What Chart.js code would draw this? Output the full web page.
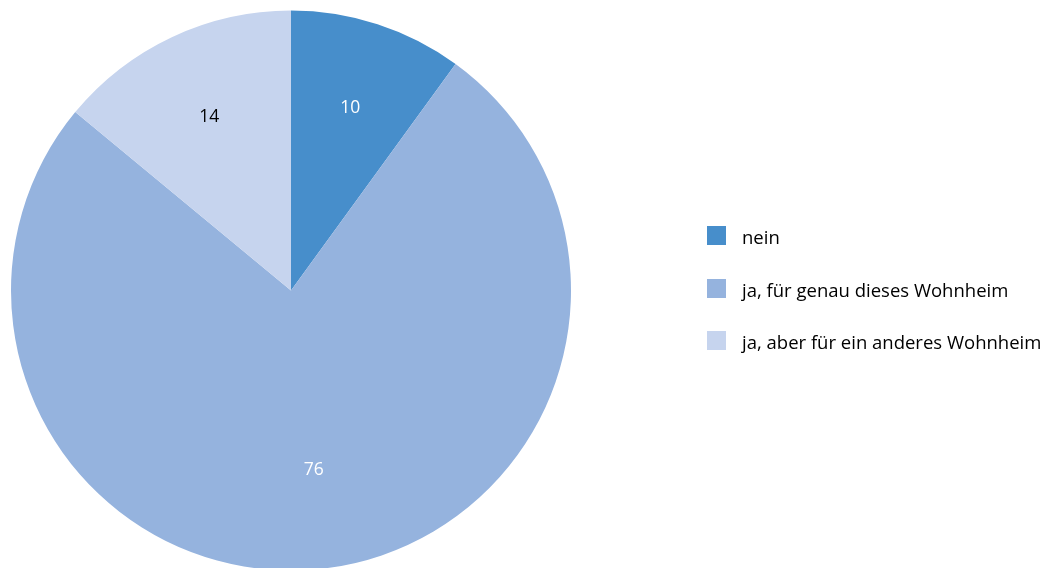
<!DOCTYPE html>
<html>
<head>
<meta charset="utf-8">
<script src="https://cdn.jsdelivr.net/npm/chart.js@4/dist/chart.umd.min.js"></script>
<style>
    html, body { margin: 0; padding: 0; background: #fff; }
    #wrap { position: relative; width: 1047px; height: 568px; overflow: hidden; }
    #chart { position: absolute; left: 0; top: 0; }
    #legend { position: absolute; left: 707px; top: 209px; font-family: "Open Sans", Lato, sans-serif;
              font-size: 18.5px; color: #000; }
    #legend div { height: 52.7px; display: flex; align-items: center; white-space: nowrap; }
    #legend span.box { display: inline-block; width: 19px; height: 19px; margin-right: 16px; flex: none; }
    #legend span.txt { position: relative; top: 1px; }
</style>
</head>
<body>
<div id="wrap">
    <canvas id="chart"></canvas>
    <div id="legend"></div>
</div>
<script>
var labels = ["nein", "ja, für genau dieses Wohnheim", "ja, aber für ein anderes Wohnheim"];
var values = [10, 76, 14];
var colors = ["#478ECB", "#95B3DE", "#C6D4EE"];
var labelColors = ["#fff", "#fff", "#000"];

// value text inside each slice
var sliceLabels = {
    id: 'sliceLabels',
    afterDatasetsDraw: function(chart) {
        var ctx = chart.ctx;
        var meta = chart.getDatasetMeta(0);
        ctx.save();
        ctx.font = '17.5px "Open Sans", Lato, sans-serif';
        ctx.textAlign = 'center';
        ctx.textBaseline = 'middle';
        meta.data.forEach(function(arc, i) {
            var p = arc.getProps(['x', 'y', 'startAngle', 'endAngle', 'outerRadius']);
            var mid = (p.startAngle + p.endAngle) / 2;
            var r = p.outerRadius * (i == 1 ? 0.645 : 0.685);
            ctx.fillStyle = labelColors[i];
            ctx.fillText(values[i], p.x + Math.cos(mid) * r, p.y + Math.sin(mid) * r);
        });
        ctx.restore();
    }
};

var canvas = document.getElementById('chart');
canvas.width = 1047;
canvas.height = 620;
canvas.style.width = '1047px';
canvas.style.height = '620px';

new Chart(canvas, {
    type: 'pie',
    data: {
        labels: labels,
        datasets: [{
            data: values,
            backgroundColor: colors,
            borderWidth: 0
        }]
    },
    options: {
        responsive: false,
        animation: false,
        layout: { padding: { left: 11, top: 10.5, right: 476, bottom: 49.5 } },
        plugins: {
            legend: { display: false },
            tooltip: { enabled: false }
        }
    },
    plugins: [sliceLabels]
});

var legend = document.getElementById('legend');
labels.forEach(function(name, i) {
    var row = document.createElement('div');
    var box = document.createElement('span');
    box.className = 'box';
    box.style.background = colors[i];
    var txt = document.createElement('span');
    txt.className = 'txt';
    txt.textContent = name;
    row.appendChild(box);
    row.appendChild(txt);
    legend.appendChild(row);
});
</script>
</body>
</html>
